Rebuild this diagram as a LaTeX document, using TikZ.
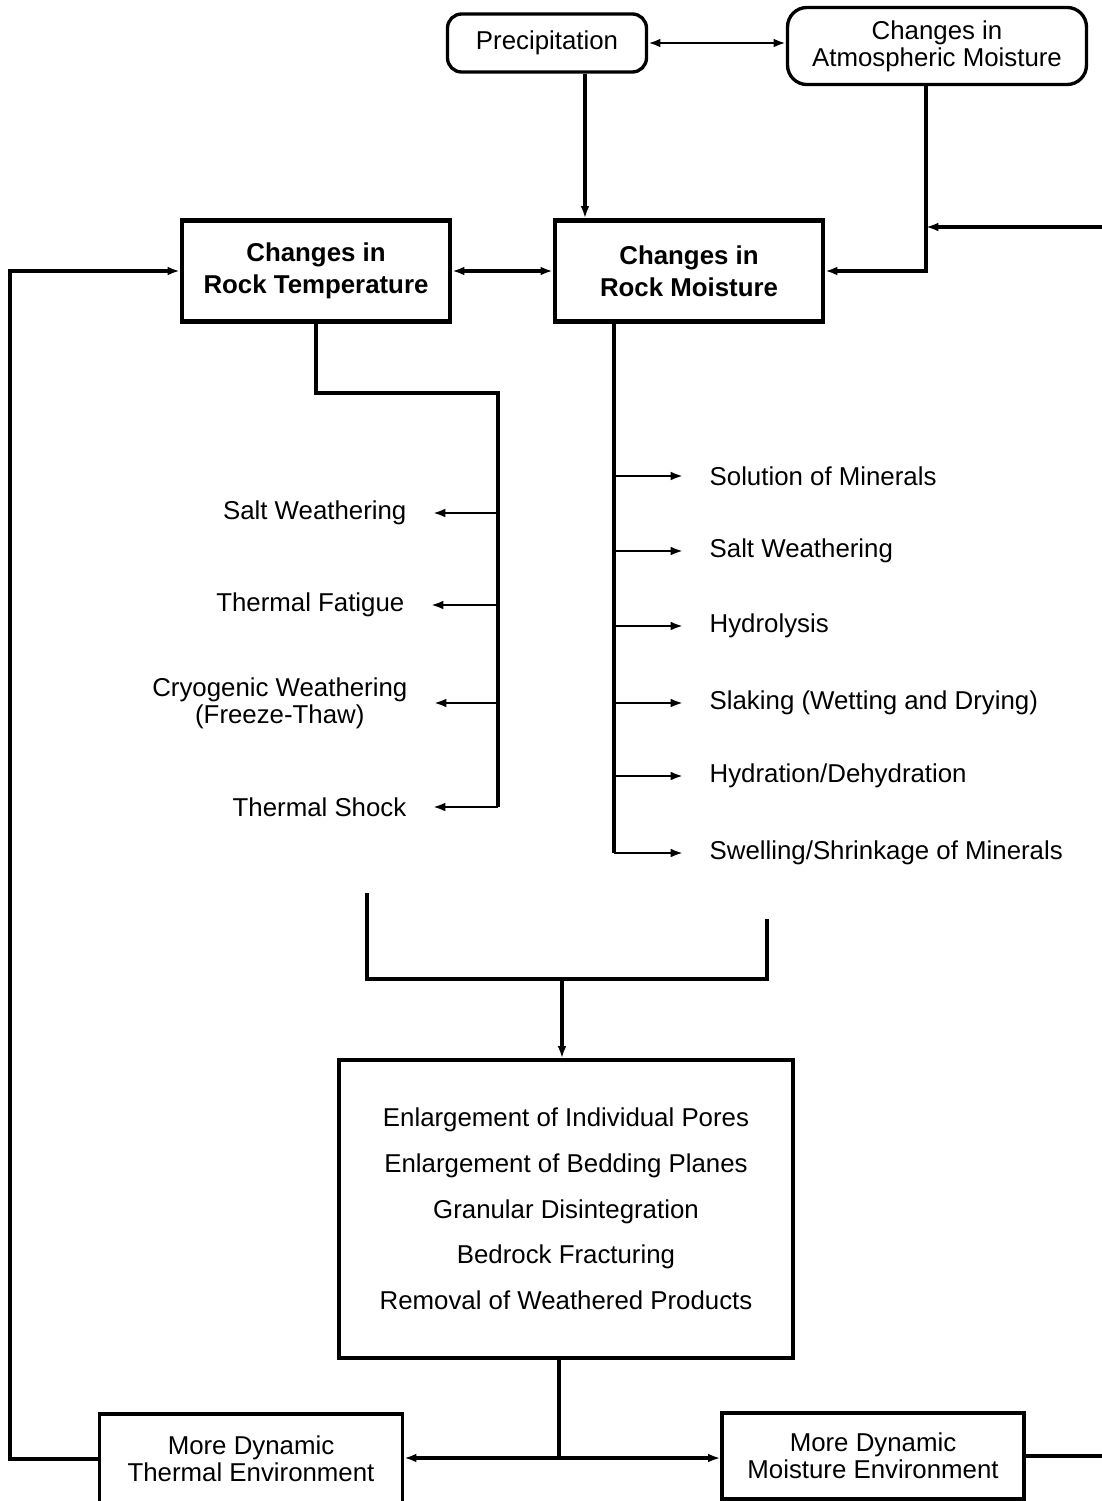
\documentclass[tikz,border=0pt]{standalone}
\usepackage{fontspec}
\setmainfont{Liberation Sans}
\usetikzlibrary{positioning,arrows.meta}
\begin{document}
\begin{tikzpicture}[x=0.02cm, y=-0.02cm, line width=1.9pt,
    >={Latex[length=7pt,width=5pt]},
    font=\fontsize{14.7}{15.5}\selectfont,
    rbox/.style={draw, rounded corners=8pt, align=center},
    bbox/.style={draw, line width=2.5pt, align=center, minimum width=5.36cm, minimum height=2.02cm, font=\bfseries\fontsize{14.7}{18.2}\selectfont},
    box/.style={draw, align=center},
    lbl/.style={inner sep=0pt, align=center},
    br/.style={->, line width=1.5pt, shorten >=0.5cm}]
    \useasboundingbox (0,0) rectangle (1102,1501);

    \node[rbox, minimum width=3.98cm, minimum height=1.16cm] (P) at (547,43) {Precipitation};
    \node[rbox, rounded corners=11pt, minimum width=5.98cm, minimum height=1.54cm] (A) at (937,46) {Changes in\\Atmospheric Moisture};
    \node[bbox] (T) at (316,271) {Changes in\\Rock Temperature};
    \node[bbox] (R) at (689,271) {Changes in\\Rock Moisture};

    \node[lbl, anchor=east] (T1) at (408,513) {Salt Weathering};
    \node[lbl, anchor=east] (T2) at (406,605) {Thermal Fatigue};
    \node[lbl, anchor=east] (T3) at (409,703) {Cryogenic Weathering\\(Freeze-Thaw)};
    \node[lbl, anchor=east] (T4) at (408,807) {Thermal Shock};

    \node[lbl, anchor=west] (R1) at (708,476) {Solution of Minerals};
    \node[lbl, anchor=west] (R2) at (708,551) {Salt Weathering};
    \node[lbl, anchor=west] (R3) at (708,626) {Hydrolysis};
    \node[lbl, anchor=west] (R4) at (708,703) {Slaking (Wetting and Drying)};
    \node[lbl, anchor=west] (R5) at (708,776) {Hydration/Dehydration};
    \node[lbl, anchor=west] (R6) at (708,853) {Swelling/Shrinkage of Minerals};

    \node[box, minimum width=9.08cm, minimum height=5.96cm, font=\fontsize{14.7}{26}\selectfont] (C) at (566,1209) {Enlargement of Individual Pores\\Enlargement of Bedding Planes\\Granular Disintegration\\Bedrock Fracturing\\Removal of Weathered Products};
    \node[box, minimum width=6.06cm, minimum height=1.8cm] (TE) at (251,1459) {More Dynamic\\Thermal Environment};
    \node[box, minimum width=6.04cm, minimum height=1.72cm] (ME) at (873,1456) {More Dynamic\\Moisture Environment};

    \draw[<->, line width=1.4pt] (P.east) -- (P.east -| A.west);
    \draw[->] ([xshift=0.76cm]P.south) -- ([xshift=0.76cm]P.south |- R.north);
    \coordinate (a) at ([xshift=-0.22cm]A.south);
    \draw[->] (a) |- (R.east);
    \draw[->] (ME.east) -| (1130,227) -- (a |- 0,227);
    \draw[<->] (T) -- (R);
    \draw[->] (TE.west) -- ++(-88,0) |- (T.west);

    \coordinate (tk) at (498,393);
    \draw (T.south) |- (tk) -- (tk |- T4.east);
    \foreach \n in {1,...,4} \draw[br] (tk |- T\n.east) -- (T\n.east);
    \coordinate (rk) at (614,0);
    \draw (R.south -| rk) -- (rk |- R6.west);
    \foreach \n in {1,...,6} \draw[br] (rk |- R\n.west) -- (R\n.west);

    \coordinate (J) at (562,979);
    \draw (367,893) |- (J) -| (767,919);
    \draw[->] (J) -- (J |- C.north);
    \coordinate (K) at (559,1458);
    \draw (C.south -| K) -- (K);
    \draw[->] (K) -- (K -| TE.east);
    \draw[->] (K) -- (K -| ME.west);
\end{tikzpicture}
\end{document}
